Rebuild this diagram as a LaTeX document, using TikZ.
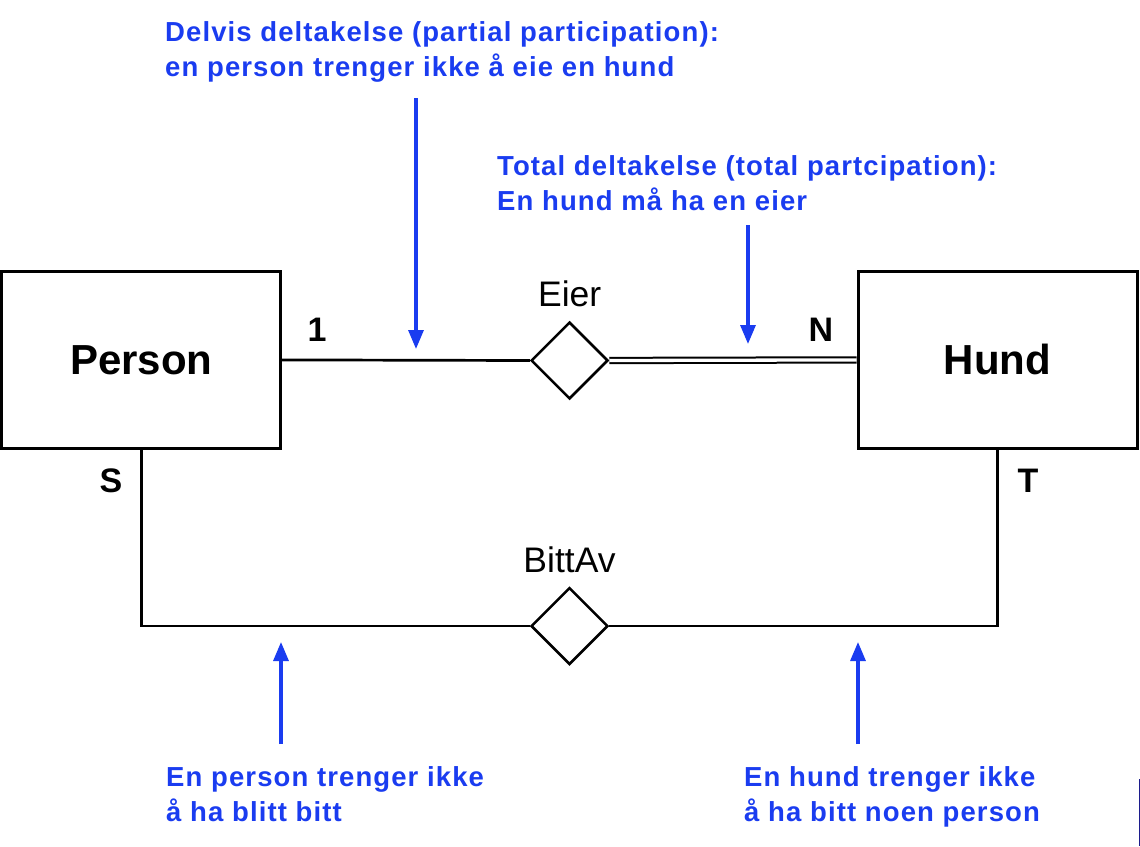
\documentclass[tikz,border=0pt]{standalone}
\usepackage{fontspec}
\setmainfont{Liberation Sans}
\newfontfamily\notefont[LetterSpace=4]{Liberation Sans}
\usetikzlibrary{arrows.meta,shapes.geometric}
\definecolor{noteblue}{HTML}{1A3CF0}
\definecolor{strayblue}{HTML}{1C1C8C}
\tikzstyle{entity} = [draw, line width=3pt, minimum width=279pt, minimum height=177pt, inner sep=0pt, font=\fontsize{42}{48}\selectfont\bfseries]
\tikzstyle{relation} = [draw, diamond, line width=2.5pt, minimum width=77pt, minimum height=77pt, inner sep=0pt]
\tikzstyle{link} = [line width=2.7pt]
\tikzstyle{totallink} = [line width=2pt, double, double distance=3.3pt]
\tikzstyle{card} = [anchor=base, inner sep=0pt, font=\fontsize{34}{40}\selectfont\bfseries]
\tikzstyle{relname} = [anchor=base, inner sep=0pt, font=\fontsize{35.5}{40}\selectfont]
\tikzstyle{note} = [anchor=base west, inner sep=0pt, align=left, text=noteblue, font=\notefont\fontsize{27.5}{34.3}\selectfont\bfseries]
\tikzstyle{pointer} = [line width=3.2pt, draw=noteblue, -{Triangle[width=15pt,length=19pt]}]

\begin{document}
\begin{tikzpicture}[x=1pt,y=-1pt]
    \useasboundingbox (0,0) rectangle (1140,846);
    % entities and relationships
    \node[entity] (person) at (141.2,359.9) {Person};
    \node[entity] (hund) at (997.5,359.9) {Hund};
    \node[relation] (eier) at (569.5,360.5) {};
    \node[relation] (bittav) at (569.5,626) {};
    \node[relname] (eiername) at (569.7,306) {Eier};
    \node[relname] (bittavname) at (569.5,572) {BittAv};
    % connectors
    \draw[link] (person.east) -- (eier.west);
    \draw[totallink] (eier.east) -- (hund.west);
    \draw[link] (person.south) |- (bittav.west);
    \draw[link] (bittav.east) -| (hund.south);
    % cardinalities
    \node[card] (card1) at (317,341) {1};
    \node[card] (cardN) at (821,341) {N};
    \node[card] (cardS) at (111,492) {S};
    \node[card] (cardT) at (1028,492) {T};
    % notes (anchored on the baseline of their last line)
    \node[note] (delvis) at (165,76) {Delvis deltakelse (partial participation):\\en person trenger ikke å eie en hund};
    \node[note] (total) at (497,210) {Total deltakelse (total partcipation):\\En hund må ha en eier};
    \node[note] (persnote) at (166,821) {En person trenger ikke\\å ha blitt bitt};
    \node[note] (hundnote) at (744,821) {En hund trenger ikke\\å ha bitt noen person};
    \coordinate (delvis-tail) at (416,98);
    \coordinate (delvis-tip) at (416,349);
    \coordinate (total-tail) at (748,225);
    \coordinate (total-tip) at (748,344);
    \coordinate (pers-tail) at (281,744);
    \coordinate (pers-tip) at (281,642);
    \coordinate (hund-tail) at (858,744);
    \coordinate (hund-tip) at (858,642);
    \draw[pointer] (delvis-tail) -- (delvis-tip);
    \draw[pointer] (total-tail) -- (total-tip);
    \draw[pointer] (pers-tail) -- (pers-tip);
    \draw[pointer] (hund-tail) -- (hund-tip);
    \draw[strayblue, line width=1.2pt] (1139.4,779) -- (1139.4,846);
\end{tikzpicture}
\end{document}
